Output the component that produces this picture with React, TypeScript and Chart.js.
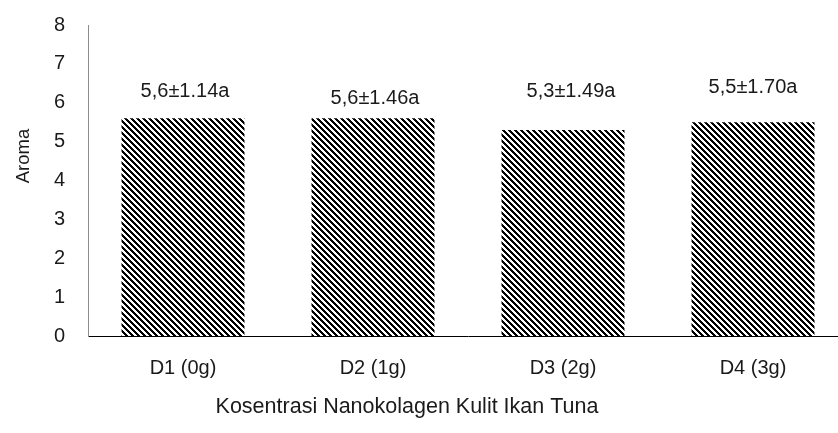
import React, { useEffect, useRef } from "react";
import { Chart, registerables } from "chart.js";

Chart.register(...registerables);

const categories = ["D1 (0g)", "D2 (1g)", "D3 (2g)", "D4 (3g)"];
const aromaValues = [5.6, 5.6, 5.3, 5.5];
const valueLabels = ["5,6±1.14a", "5,6±1.46a", "5,3±1.49a", "5,5±1.70a"];
const yMin = 0;
const yMax = 8;
const yStep = 1;
const xTitle = "Kosentrasi Nanokolagen Kulit Ikan Tuna";
const yTitle = "Aroma";

const FONT = "'Liberation Sans', Arial, Helvetica, sans-serif";
const TEXT = "#1a1a1a";
const FONT_SIZE = 20;
// pixel nudges of the value labels relative to the top-centre of each bar
const labelNudge = [
  [2, -27],
  [2, -20],
  [8, -38],
  [0, -35],
];

function makePattern(): CanvasPattern | string {
  const c = document.createElement("canvas");
  c.width = 6;
  c.height = 6;
  const ctx = c.getContext("2d");
  if (!ctx) return "#000";
  ctx.fillStyle = "#ffffff";
  ctx.fillRect(0, 0, 6, 6);
  ctx.fillStyle = "#000000";
  for (let y = 0; y < 6; y++) {
    for (let x = 0; x < 6; x++) {
      if ((((x - y) % 6) + 6) % 6 < 3) ctx.fillRect(x, y, 1, 1);
    }
  }
  return ctx.createPattern(c, "repeat") || "#000";
}

const annotate = {
  id: "annotate",
  afterDraw(chart: any) {
    const ctx = chart.ctx as CanvasRenderingContext2D;
    const meta = chart.getDatasetMeta(0);
    ctx.save();
    ctx.fillStyle = TEXT;
    ctx.font = `${FONT_SIZE}px ${FONT}`;
    ctx.textAlign = "center";
    ctx.textBaseline = "middle";
    meta.data.forEach((bar: any, i: number) => {
      const [dx, dy] = labelNudge[i] || [0, -25];
      ctx.fillText(valueLabels[i], bar.x + dx, bar.y + dy);
    });
    // x-axis title
    ctx.font = `21.5px ${FONT}`;
    ctx.fillText(xTitle, 407, 407);
    // y-axis title
    ctx.font = `18.5px ${FONT}`;
    ctx.translate(24, 156);
    ctx.rotate(-Math.PI / 2);
    ctx.fillText(yTitle, 0, 0);
    ctx.restore();
  },
};

export default function App() {
  const ref = useRef<HTMLCanvasElement | null>(null);

  useEffect(() => {
    if (!ref.current) return;
    const chart = new Chart(ref.current, {
      type: "bar",
      data: {
        labels: categories,
        datasets: [
          {
            data: aromaValues,
            backgroundColor: makePattern() as any,
            borderWidth: 0,
            categoryPercentage: 1,
            barPercentage: 0.647,
          },
        ],
      },
      options: {
        responsive: false,
        animation: false,
        devicePixelRatio: 1,
        layout: { padding: { top: 25, right: 2, left: 0, bottom: 0 } },
        plugins: {
          legend: { display: false },
          tooltip: { enabled: false },
          title: { display: false },
        },
        scales: {
          x: {
            grid: { display: false, drawTicks: false },
            border: { display: true, color: "#000000", width: 1 },
            ticks: {
              color: TEXT,
              font: { family: FONT, size: FONT_SIZE },
              padding: 20,
              maxRotation: 0,
            },
            afterFit: (s: any) => {
              s.height = 97;
              s.paddingLeft = 0;
              s.paddingRight = 0;
            },
          },
          y: {
            min: yMin,
            max: yMax,
            grid: { display: false, drawTicks: false },
            border: { display: true, color: "#8c8c8c", width: 1 },
            ticks: {
              stepSize: yStep,
              color: TEXT,
              font: { family: FONT, size: FONT_SIZE },
              padding: 23,
            },
            afterFit: (s: any) => {
              s.width = 88;
              s.paddingTop = 0;
              s.paddingBottom = 0;
            },
          },
        },
      },
      plugins: [annotate],
    });
    return () => chart.destroy();
  }, []);

  return (
    <div
      style={{
        position: "fixed",
        left: 0,
        top: 0,
        width: 838,
        height: 433,
        overflow: "hidden",
        background: "#ffffff",
      }}
    >
      <canvas ref={ref} width={850} height={433} style={{ display: "block" }} />
    </div>
  );
}
